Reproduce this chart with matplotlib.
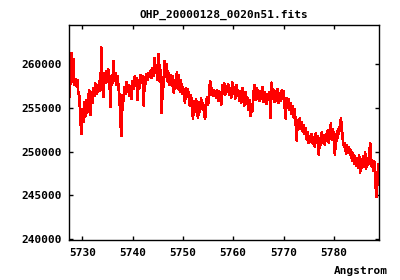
import numpy as np
import matplotlib
matplotlib.use("Agg")
import matplotlib.pyplot as plt

# spectrum samples, flux in units of 1000 counts, one value every 0.2 Angstrom
wave_start = 5727.4
wave_step = 0.2
flux_k = [
    256.2, 257.8, 261.3, 258.0, 260.6, 257.6, 258.3, 257.5, 258.2, 256.8,
    256.4, 254.2, 252.0, 254.8, 253.4, 255.6, 254.0, 255.9, 254.5, 256.2,
    257.0, 254.2, 256.8, 255.6, 257.3, 256.4, 257.8, 256.6, 257.6, 256.9,
    258.1, 257.0, 261.9, 257.6, 256.3, 259.0, 257.9, 259.2, 258.0, 259.4,
    258.3, 255.1, 258.6, 257.9, 260.4, 258.1, 259.0, 257.6, 258.6, 257.4,
    256.2, 253.2, 251.8, 256.5, 255.8, 257.4, 256.6, 258.0, 256.9, 257.6,
    256.4, 257.5, 256.0, 258.1, 257.2, 258.6, 257.5, 258.4, 255.9, 258.2,
    257.3, 258.8, 257.9, 258.6, 255.3, 258.5, 257.8, 258.9, 258.2, 259.0,
    258.6, 259.3, 258.4, 259.6, 258.7, 260.7, 259.0, 259.8, 258.2, 261.2,
    258.0, 259.3, 254.4, 258.5, 257.4, 260.4, 259.1, 260.0, 258.0, 259.0,
    257.6, 258.8, 257.5, 258.6, 256.7, 258.2, 257.3, 259.1, 257.2, 258.8,
    256.8, 258.2, 256.6, 257.4, 256.5, 255.6, 257.3, 256.3, 257.1, 256.2,
    255.2, 256.4, 255.0, 253.8, 255.8, 254.6, 256.0, 254.8, 253.9, 255.6,
    254.6, 256.1, 254.9, 255.5, 254.5, 253.8, 255.6, 256.2, 255.4, 256.6,
    258.1, 256.5, 257.2, 256.4, 257.0, 256.7, 256.2, 257.0, 255.8, 256.9,
    256.4, 255.4, 257.6, 256.6, 257.8, 256.5, 257.5, 256.8, 257.7, 256.5,
    257.3, 256.2, 257.9, 256.6, 257.4, 256.1, 257.6, 256.4, 257.0, 255.8,
    256.9, 255.6, 257.3, 256.0, 255.3, 256.8, 255.5, 256.2, 254.8, 255.9,
    254.1, 255.2, 254.6, 256.5, 257.6, 255.9, 257.3, 256.0, 257.0, 255.8,
    256.9, 256.1, 257.4, 255.7, 256.8, 256.2, 255.5, 256.6, 255.9, 256.8,
    253.9, 257.9, 256.0, 257.1, 255.7, 256.9, 255.8, 257.2, 255.6, 256.7,
    255.8, 257.0, 256.0, 256.9, 255.4, 253.8, 256.1, 255.0, 256.0, 254.8,
    255.5, 254.3, 255.2, 253.9, 254.8, 253.3, 251.3, 253.6, 252.9, 253.8,
    252.6, 253.4, 252.3, 253.0, 252.0, 252.7, 251.4, 252.2, 251.0, 251.8,
    251.1, 252.0, 250.9, 251.6, 250.6, 252.1, 251.0, 251.8, 249.7, 251.5,
    250.8, 252.2, 251.0, 251.9, 250.8, 252.0, 251.2, 252.5, 251.0, 252.3,
    253.2, 251.4, 252.6, 251.3, 249.7, 252.0, 251.2, 252.6, 252.1, 253.0,
    253.8, 252.4, 251.2, 250.6, 251.0, 249.8, 250.7, 249.9, 250.5, 249.6,
    250.2, 249.0, 249.8, 248.6, 249.5, 248.4, 249.3, 248.2, 249.6, 247.6,
    249.0, 248.2, 249.5, 248.3, 249.9, 248.1, 249.2, 248.5, 249.3, 251.0,
    248.4, 249.0, 247.8, 248.9, 247.5, 244.8, 246.2, 248.6, 247.0,
]
x_ticks = [5730, 5740, 5750, 5760, 5770, 5780]
y_ticks = [240000, 245000, 250000, 255000, 260000]

flux = np.array(flux_k) * 1000
wave = wave_start + wave_step * np.arange(len(flux))

font = {'family': 'DejaVu Sans Mono', 'weight': 'bold', 'size': 8}

fig = plt.figure(figsize=(4, 2.8), dpi=100)
ax = fig.add_axes([0.173, 0.143, 0.775, 0.768])
ax.plot(wave, flux, color='#ff0000', lw=1.2, antialiased=False)

ax.set_xlim(5727.4, 5789.0)
ax.set_ylim(239900, 264500)
ax.set_xticks(x_ticks)
ax.set_yticks(y_ticks)
ax.set_xticklabels([str(t) for t in x_ticks], fontdict=font)
ax.set_yticklabels([str(t) for t in y_ticks], fontdict=font)
ax.tick_params(direction='in', length=3, width=1, top=True, right=True)
ax.tick_params(axis='x', pad=6)
ax.tick_params(axis='y', pad=5)
for s in ax.spines.values():
    s.set_linewidth(1)

ax.set_title('OHP_20000128_0020n51.fits', fontdict=font, pad=5)
fig.text(0.97, 1 - 271 / 280, 'Angstrom', ha='right', va='center', **font)

fig.savefig('out.png', dpi=100)
